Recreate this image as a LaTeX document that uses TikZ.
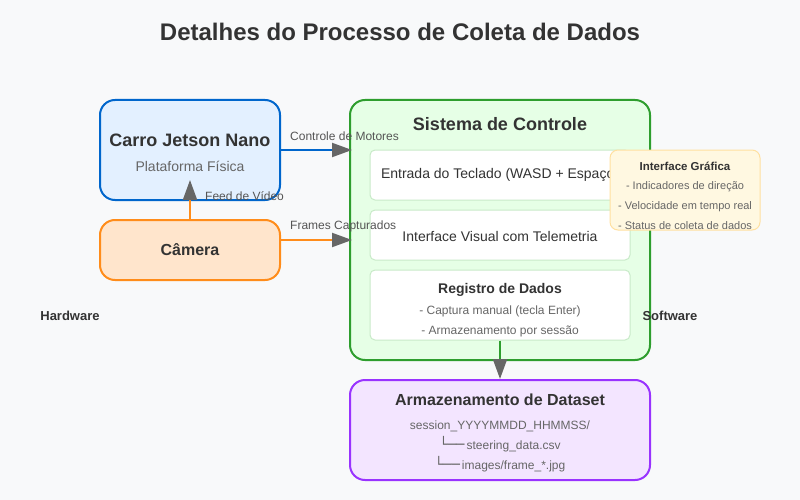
\documentclass[tikz,border=0pt]{standalone}
\usepackage{fontspec}
\setmainfont{Liberation Sans}
\newfontfamily\boxfont{DejaVu Sans}
\usepackage{tikz}
\usetikzlibrary{arrows.meta,positioning}
\definecolor{bgcol}{HTML}{F8F9FA}
\definecolor{txt}{HTML}{333333}
\definecolor{subgray}{HTML}{666666}
\definecolor{lblgray}{HTML}{555555}
\definecolor{arrgray}{HTML}{666666}
\definecolor{carblue}{HTML}{0066CC}
\definecolor{carfill}{HTML}{E3F0FF}
\definecolor{camorange}{HTML}{FF8C1A}
\definecolor{camfill}{HTML}{FFE5CC}
\definecolor{sisgreen}{HTML}{2E9E2E}
\definecolor{sisfill}{HTML}{E6FFE6}
\definecolor{ingreen}{HTML}{C8EAC8}
\definecolor{guifill}{HTML}{FFF8E1}
\definecolor{guiline}{HTML}{FFE0A0}
\definecolor{dspurple}{HTML}{9933FF}
\definecolor{dsfill}{HTML}{F3E5FF}
\newcommand{\fsz}[2]{\fontsize{#1}{#2}\selectfont}

\begin{document}
\begin{tikzpicture}[x=1pt,y=-1pt,
  box/.style={draw,line width=2pt,rounded corners=15pt,inner sep=0pt},
  inbox/.style={draw=ingreen,fill=white,line width=1pt,rounded corners=5pt,inner sep=0pt,minimum width=260pt},
  ttl/.style={text=txt,font=\bfseries\fsz{18}{20}},
  sub/.style={text=subgray,font=\fsz{12}{20},align=center},
  lbl/.style={text=lblgray,font=\fsz{12}{14},anchor=west,inner sep=0pt},
  flow/.style={line width=2pt,-{Triangle[length=20pt,width=14pt,color=arrgray]}}]
\fill[bgcol] (0,0) rectangle (800,500);
\node[text=txt,font=\bfseries\fsz{24}{28}] (title) at (400,32) {Detalhes do Processo de Coleta de Dados};

% hardware
\node[box,draw=carblue,fill=carfill,minimum width=180pt,minimum height=100pt] (carro) at (190,150) {};
\node[ttl] (carrot) at (190,140) {Carro Jetson Nano};
\node[text=subgray,font=\fsz{14}{16}] (carros) at (190,166) {Plataforma Física};
\node[box,draw=camorange,fill=camfill,minimum width=180pt,minimum height=60pt] (cam) at (190,250) {};
\node[text=txt,font=\bfseries\fsz{16}{18}] (camt) at (190,250) {Câmera};
\node[text=txt,font=\bfseries\fsz{13}{15}] (hw) at (70,316) {Hardware};

% software
\node[box,draw=sisgreen,fill=sisfill,minimum width=300pt,minimum height=260pt] (sis) at (500,230) {};
\node[ttl] (sist) at (500,124) {Sistema de Controle};
\node[inbox,minimum height=50pt] (tec) at (500,175) {};
\node[text=txt,font=\fsz{14}{16}] (tect) at (500,175) {Entrada do Teclado (WASD + Espaço)};
\node[inbox,minimum height=50pt] (vis) at (500,235) {};
\node[text=txt,font=\fsz{14}{16}] (vist) at (500,236) {Interface Visual com Telemetria};
\node[inbox,minimum height=70pt] (reg) at (500,305) {};
\node[text=txt,font=\bfseries\fsz{14}{16}] (regt) at (500,290) {Registro de Dados};
\node[sub,text=subgray] (regs) at (500,321.5) {- Captura manual (tecla Enter)\\- Armazenamento por sessão};
\node[draw=guiline,fill=guifill,line width=1pt,rounded corners=8pt,minimum width=150pt,minimum height=80pt,inner sep=0pt] (gui) at (685,190) {};
\node[text=txt,font=\bfseries\fsz{11.5}{13}] (guit) at (685,166) {Interface Gráfica};
\node[text=subgray,font=\fsz{11}{20},align=center] (guis) at (685,206) {- Indicadores de direção\\- Velocidade em tempo real\\- Status de coleta de dados};
\node[text=txt,font=\bfseries\fsz{13}{15}] (sw) at (670,316) {Software};

% dataset
\node[box,draw=dspurple,fill=dsfill,minimum width=300pt,minimum height=100pt] (ds) at (500,430) {};
\node[text=txt,font=\bfseries\fsz{16}{18}] (dst) at (500,400) {Armazenamento de Dataset};
\node[sub] (dss) at (500,446) {session\_YYYYMMDD\_HHMMSS/\\{\boxfont\fsz{14}{20}└──}\,steering\_data.csv\\{\boxfont\fsz{14}{20}└──}\,images/frame\_*.jpg};

% connectors
\coordinate (fr) at ([yshift=10pt]cam.east);
\draw[flow,draw=carblue,shorten >=-3pt] (carro.east) -- (carro.east -| sis.west);
\draw[flow,draw=camorange,shorten >=-3pt] (fr) -- (fr -| sis.west);
\draw[flow,draw=camorange,shorten >=-21pt] (cam) -- (carro);
\draw[flow,draw=sisgreen] (reg) -- (ds);
\node[lbl] (lmot) at (290,136) {Controle de Motores};
\node[lbl] (lfr) at (290,226) {Frames Capturados};
\node[lbl] (lfeed) at (205,196) {Feed de Vídeo};
\end{tikzpicture}
\end{document}
